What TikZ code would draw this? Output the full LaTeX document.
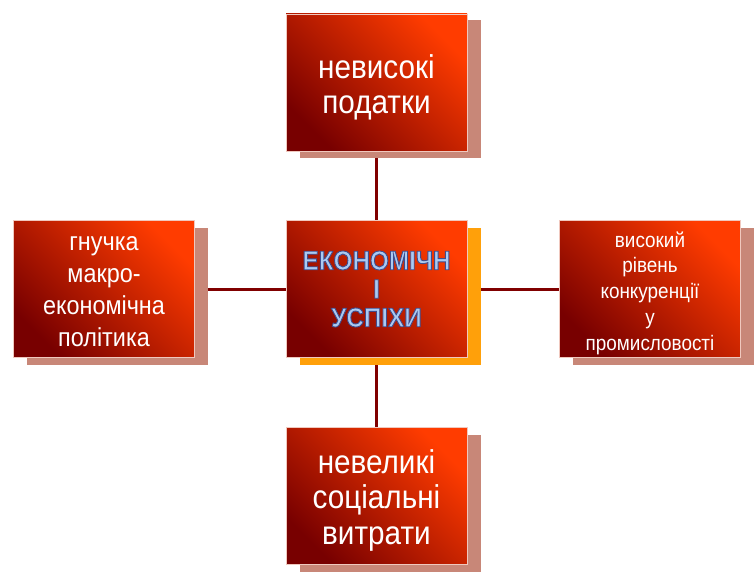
\documentclass[tikz,border=0pt]{standalone}
\usepackage{fontspec}
\setmainfont{Liberation Sans}[FakeStretch=0.9]
\usetikzlibrary{backgrounds}
\definecolor{darkred}{RGB}{120,0,0}
\definecolor{brightred}{RGB}{255,60,0}
\definecolor{shadowpink}{RGB}{200,135,120}
\definecolor{shadoworange}{RGB}{255,160,10}
\definecolor{linered}{RGB}{128,0,0}
\definecolor{centertext}{RGB}{170,202,242}
\definecolor{edgepink}{RGB}{240,200,190}
\newcommand{\outlinedtext}[1]{\special{pdf:code 2 Tr 0.9 w 0.25 0.3 0.55 RG}#1\special{pdf:code 0 Tr}}
\begin{document}
\begin{tikzpicture}[x=1pt,y=-1pt,
  box/.style={rectangle, minimum width=181pt, minimum height=137pt, inner sep=0pt,
    left color=darkred, right color=brightred, shading angle=135,
    draw=edgepink, line width=0.6pt},
  shad/.style={rectangle, minimum width=181pt, minimum height=137pt, inner sep=0pt, fill=#1},
  txt/.style={text=white, align=center, inner sep=0pt},
  conn/.style={draw=linered, line width=3pt}]
\useasboundingbox (0,0) rectangle (756,578);
% shadows
\node[shad=shadowpink]   (topS)    at (390,89)    {};
\node[shad=shadowpink]   (leftS)   at (117,296)   {};
\node[shad=shadowpink]   (rightS)  at (663,296)   {};
\node[shad=shadowpink]   (botS)    at (390,503)   {};
\node[shad=shadoworange] (centerS) at (390.5,296) {};
% boxes
\node[box] (top)    at (376.5,82.5) {};
\node[box] (left)   at (104,289)    {};
\node[box] (right)  at (650,289)    {};
\node[box] (bottom) at (376.5,496)  {};
\node[box] (center) at (376.5,289)  {};
% texts
\node[txt, font=\fontsize{33}{35}\selectfont] (topT) at ([yshift=-5pt]top.center) {невисокі\\податки};
\node[txt, font=\fontsize{26}{32}\selectfont] (leftT) at ([yshift=-3pt]left.center) {гнучка\\макро-\\економічна\\політика};
\node[txt, font=\fontsize{21}{25.7}\selectfont] (rightT) at ([yshift=-4pt]right.center) {високий\\рівень\\конкуренції\\у\\промисловості};
\node[txt, font=\fontsize{33}{35.5}\selectfont] (bottomT) at ([yshift=-4pt]bottom.center) {невеликі\\соціальні\\витрати};
\node[txt, text=centertext, font=\bfseries\fontsize{27}{28.5}\selectfont] (centerT) at (center.center) {\outlinedtext{ЕКОНОМІЧН}\\\outlinedtext{І}\\\outlinedtext{УСПІХИ}};
% connectors
\begin{scope}[on background layer]
\draw[conn] (top) -- (center);
\draw[conn] (left) -- (center);
\draw[conn] (center) -- (right);
\draw[conn] (center) -- (bottom);
\end{scope}
\end{tikzpicture}
\end{document}
